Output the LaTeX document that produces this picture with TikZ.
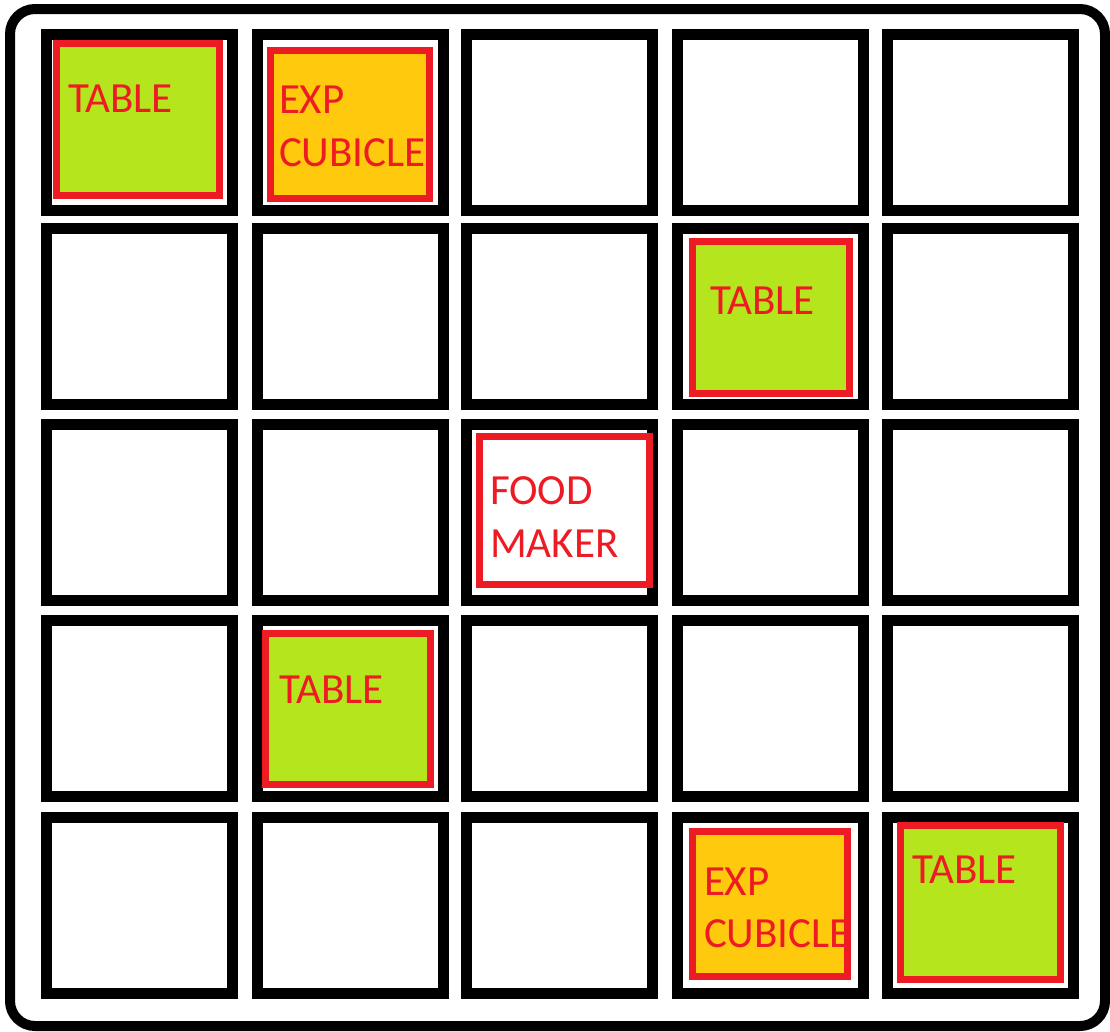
\documentclass[tikz,border=0pt]{standalone}
\usepackage{fontspec}
\setmainfont{Carlito}
\definecolor{pred}{HTML}{ED1C24}
\definecolor{plime}{HTML}{B5E61D}
\definecolor{pgold}{HTML}{FFC90E}
\begin{document}
\begin{tikzpicture}[x=1pt,y=-1pt,
  frame/.style={draw=black,line width=10pt,rounded corners=25pt,rectangle,inner sep=0pt,outer sep=0pt},
  cell/.style={draw=black,line width=11pt,rectangle,inner sep=0pt,outer sep=0pt,minimum width=186pt,minimum height=176pt,fill=white},
  item/.style={draw=pred,line width=7pt,rectangle,inner sep=0pt,outer sep=0pt},
  tablebox/.style={item,fill=plime},
  cubebox/.style={item,fill=pgold},
  foodbox/.style={item,fill=white},
  lbl/.style={text=pred,font=\fontsize{43}{52}\selectfont,anchor=base west,inner sep=0pt,outer sep=0pt}]
\useasboundingbox[fill=white] (0,0) rectangle (1110,1031);
\node[frame,minimum width=1095pt,minimum height=1017pt] (outer) at (557.5,517.5) {};
% grid of cells
\foreach \c/\x in {1/139.5,2/350.5,3/559.5,4/770.5,5/980.5}{
  \foreach \r/\y in {1/122.5,2/316.5,3/512.5,4/708.5,5/905.5}{
    \node[cell] (cell-\r-\c) at (\x,\y) {};
  }
}
% items
\node[tablebox,minimum width=163pt,minimum height=152pt] (t1) at (138,119.5) {};
\node[cubebox,minimum width=159pt,minimum height=148pt] (e1) at (350,124.5) {};
\node[tablebox,minimum width=157pt,minimum height=152pt] (t2) at (771,317.5) {};
\node[foodbox,minimum width=170pt,minimum height=148pt] (f1) at (564.5,510.5) {};
\node[tablebox,minimum width=165pt,minimum height=151pt] (t3) at (348,709) {};
\node[cubebox,minimum width=155pt,minimum height=145pt] (e2) at (770,904) {};
\node[tablebox,minimum width=160pt,minimum height=154pt] (t4) at (980.5,902.5) {};
% labels
\node[lbl] (t1l) at (68,112) {TABLE};
\node[lbl] (e1a) at (279,113) {EXP};
\node[lbl] (e1b) at (279,166) {CUBICLE};
\node[lbl] (t2l) at (710,314) {TABLE};
\node[lbl] (f1a) at (490,504) {FOOD};
\node[lbl] (f1b) at (490,557) {MAKER};
\node[lbl] (t3l) at (279,703) {TABLE};
\node[lbl] (e2a) at (704,895) {EXP};
\node[lbl] (e2b) at (704,947) {CUBICLE};
\node[lbl] (t4l) at (912,883) {TABLE};
\end{tikzpicture}
\end{document}
